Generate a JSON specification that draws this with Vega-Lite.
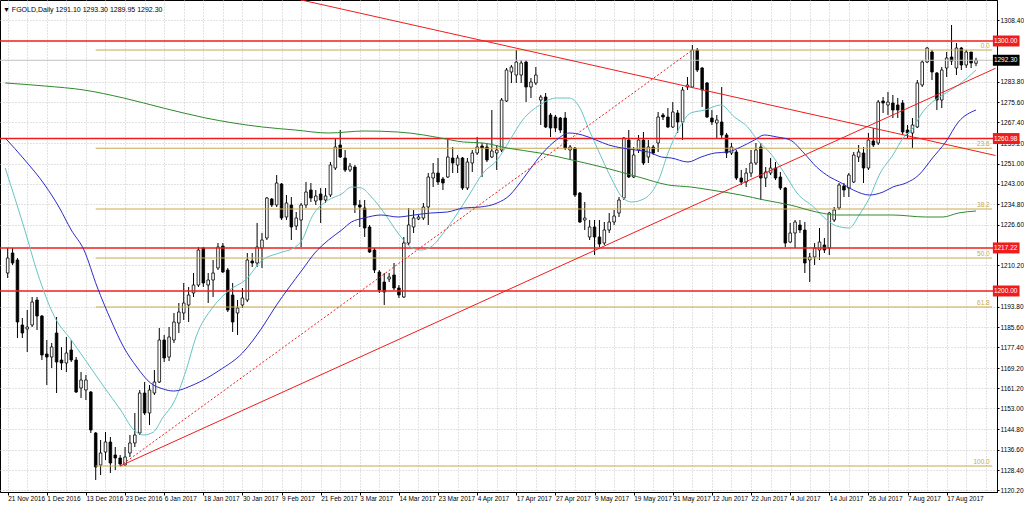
{
"$schema": "https://vega.github.io/schema/vega-lite/v6.json",
"width": 997, "height": 492, "autosize": "none",
"padding": {"left": 0, "top": 0, "right": 27, "bottom": 13},
"background": "white",
"config": {"view": {"stroke": "black", "strokeWidth": 1}, "font": "Liberation Sans", "axis": {"labelOverlap": false, "labelFlush": false, "labelBound": false}},
"title": {"text": "▼ FGOLD,Daily  1291.10 1293.30 1289.95 1292.30", "anchor": "start", "frame": "group", "orient": "top", "offset": -13, "dx": 3, "fontSize": 7, "fontWeight": "normal", "font": "Liberation Sans", "color": "black"},
"datasets": {
"candles": [
{"i":0,"o":1207.2,"h":1217.2,"l":1205.2,"c":1213.2},
{"i":1,"o":1215.2,"h":1217.2,"l":1210.4,"c":1211.2},
{"i":2,"o":1212.4,"h":1213.2,"l":1181.2,"c":1187.6},
{"i":3,"o":1186.4,"h":1189.2,"l":1181.2,"c":1183.2},
{"i":4,"o":1184.8,"h":1192.4,"l":1175.6,"c":1185.6},
{"i":5,"o":1186.4,"h":1197.6,"l":1185.6,"c":1195.6},
{"i":6,"o":1196.4,"h":1197.6,"l":1184.4,"c":1190.0},
{"i":7,"o":1190.0,"h":1190.4,"l":1172.4,"c":1174.4},
{"i":8,"o":1174.8,"h":1180.4,"l":1162.4,"c":1173.6},
{"i":9,"o":1173.6,"h":1179.2,"l":1169.2,"c":1177.6},
{"i":10,"o":1183.2,"h":1189.6,"l":1159.2,"c":1171.6},
{"i":11,"o":1172.4,"h":1177.6,"l":1168.4,"c":1171.2},
{"i":12,"o":1171.2,"h":1181.6,"l":1167.6,"c":1175.2},
{"i":13,"o":1176.4,"h":1180.4,"l":1171.6,"c":1172.4},
{"i":14,"o":1172.4,"h":1173.6,"l":1159.2,"c":1159.6},
{"i":15,"o":1161.2,"h":1167.6,"l":1157.2,"c":1164.4},
{"i":16,"o":1160.4,"h":1166.4,"l":1156.4,"c":1164.4},
{"i":17,"o":1159.6,"h":1160.0,"l":1143.2,"c":1144.4},
{"i":18,"o":1143.2,"h":1143.6,"l":1124.4,"c":1129.6},
{"i":19,"o":1130.4,"h":1140.4,"l":1126.4,"c":1135.2},
{"i":20,"o":1135.6,"h":1143.6,"l":1132.4,"c":1139.6},
{"i":21,"o":1139.6,"h":1141.6,"l":1127.2,"c":1131.2},
{"i":22,"o":1134.4,"h":1137.6,"l":1128.4,"c":1133.2},
{"i":23,"o":1133.2,"h":1134.4,"l":1130.0,"c":1130.8},
{"i":24,"o":1130.4,"h":1137.6,"l":1130.0,"c":1133.6},
{"i":25,"o":1135.2,"h":1142.4,"l":1133.6,"c":1139.2},
{"i":26,"o":1139.2,"h":1151.2,"l":1137.6,"c":1142.4},
{"i":27,"o":1143.2,"h":1160.4,"l":1142.4,"c":1159.2},
{"i":28,"o":1159.2,"h":1163.6,"l":1150.4,"c":1151.2},
{"i":29,"o":1151.2,"h":1162.4,"l":1146.4,"c":1160.4},
{"i":30,"o":1159.2,"h":1168.4,"l":1158.4,"c":1163.6},
{"i":31,"o":1163.6,"h":1185.2,"l":1163.2,"c":1180.4},
{"i":32,"o":1180.4,"h":1182.4,"l":1171.6,"c":1173.2},
{"i":33,"o":1173.6,"h":1185.6,"l":1172.0,"c":1181.6},
{"i":34,"o":1180.4,"h":1191.2,"l":1179.2,"c":1187.6},
{"i":35,"o":1187.2,"h":1195.2,"l":1183.2,"c":1191.6},
{"i":36,"o":1191.2,"h":1203.2,"l":1188.4,"c":1195.2},
{"i":37,"o":1194.4,"h":1201.6,"l":1187.6,"c":1198.4},
{"i":38,"o":1199.2,"h":1207.2,"l":1197.6,"c":1202.4},
{"i":39,"o":1202.4,"h":1217.6,"l":1201.6,"c":1216.4},
{"i":40,"o":1217.2,"h":1217.6,"l":1201.6,"c":1203.2},
{"i":41,"o":1202.4,"h":1207.2,"l":1195.2,"c":1204.4},
{"i":42,"o":1204.4,"h":1212.4,"l":1197.6,"c":1207.2},
{"i":43,"o":1209.2,"h":1219.2,"l":1208.4,"c":1217.6},
{"i":44,"o":1218.0,"h":1219.2,"l":1207.2,"c":1207.6},
{"i":45,"o":1208.4,"h":1209.2,"l":1191.6,"c":1192.4},
{"i":46,"o":1198.4,"h":1203.2,"l":1183.6,"c":1187.6},
{"i":47,"o":1191.2,"h":1196.4,"l":1182.4,"c":1193.2},
{"i":48,"o":1194.4,"h":1201.2,"l":1193.2,"c":1197.2},
{"i":49,"o":1196.4,"h":1215.2,"l":1195.6,"c":1212.4},
{"i":50,"o":1212.0,"h":1215.2,"l":1209.6,"c":1211.2},
{"i":51,"o":1211.2,"h":1227.2,"l":1209.6,"c":1217.6},
{"i":52,"o":1217.2,"h":1223.2,"l":1209.2,"c":1220.4},
{"i":53,"o":1221.2,"h":1237.6,"l":1220.4,"c":1237.2},
{"i":54,"o":1236.8,"h":1237.2,"l":1233.6,"c":1234.4},
{"i":55,"o":1234.4,"h":1246.4,"l":1233.6,"c":1243.2},
{"i":56,"o":1242.8,"h":1243.2,"l":1228.4,"c":1229.2},
{"i":57,"o":1229.6,"h":1238.4,"l":1228.4,"c":1235.2},
{"i":58,"o":1234.4,"h":1237.6,"l":1220.4,"c":1225.6},
{"i":59,"o":1226.0,"h":1231.6,"l":1224.4,"c":1229.2},
{"i":60,"o":1228.4,"h":1235.2,"l":1217.6,"c":1234.4},
{"i":61,"o":1234.4,"h":1243.6,"l":1233.2,"c":1239.6},
{"i":62,"o":1240.4,"h":1243.2,"l":1235.6,"c":1237.2},
{"i":63,"o":1236.0,"h":1240.4,"l":1234.4,"c":1238.0},
{"i":64,"o":1238.8,"h":1241.2,"l":1227.2,"c":1236.4},
{"i":65,"o":1236.4,"h":1241.2,"l":1235.2,"c":1238.0},
{"i":66,"o":1238.4,"h":1251.6,"l":1237.6,"c":1250.4},
{"i":67,"o":1249.2,"h":1261.2,"l":1248.4,"c":1257.6},
{"i":68,"o":1258.4,"h":1264.4,"l":1253.2,"c":1253.6},
{"i":69,"o":1253.2,"h":1256.4,"l":1247.6,"c":1248.4},
{"i":70,"o":1248.4,"h":1251.2,"l":1247.6,"c":1250.0},
{"i":71,"o":1249.6,"h":1250.4,"l":1231.2,"c":1234.4},
{"i":72,"o":1234.4,"h":1236.4,"l":1225.6,"c":1233.6},
{"i":73,"o":1233.2,"h":1236.4,"l":1221.6,"c":1225.2},
{"i":74,"o":1225.6,"h":1226.4,"l":1215.2,"c":1215.6},
{"i":75,"o":1216.4,"h":1217.2,"l":1207.2,"c":1208.4},
{"i":76,"o":1207.6,"h":1208.4,"l":1199.2,"c":1200.4},
{"i":77,"o":1203.6,"h":1207.2,"l":1194.4,"c":1199.6},
{"i":78,"o":1204.8,"h":1207.2,"l":1203.6,"c":1205.6},
{"i":79,"o":1206.4,"h":1211.2,"l":1200.4,"c":1201.2},
{"i":80,"o":1201.2,"h":1202.4,"l":1197.2,"c":1198.4},
{"i":81,"o":1197.6,"h":1221.6,"l":1197.2,"c":1219.2},
{"i":82,"o":1219.2,"h":1233.2,"l":1218.4,"c":1226.4},
{"i":83,"o":1225.6,"h":1232.4,"l":1223.2,"c":1229.2},
{"i":84,"o":1228.8,"h":1230.4,"l":1228.4,"c":1229.6},
{"i":85,"o":1229.2,"h":1235.2,"l":1228.4,"c":1233.6},
{"i":86,"o":1233.6,"h":1247.2,"l":1226.4,"c":1245.6},
{"i":87,"o":1245.2,"h":1251.2,"l":1241.6,"c":1247.2},
{"i":88,"o":1247.2,"h":1253.2,"l":1242.4,"c":1243.6},
{"i":89,"o":1244.8,"h":1245.6,"l":1240.4,"c":1243.2},
{"i":90,"o":1245.6,"h":1261.2,"l":1245.2,"c":1253.6},
{"i":91,"o":1253.2,"h":1257.6,"l":1247.2,"c":1251.2},
{"i":92,"o":1250.4,"h":1254.4,"l":1247.2,"c":1253.2},
{"i":93,"o":1253.2,"h":1253.6,"l":1240.4,"c":1241.2},
{"i":94,"o":1241.2,"h":1253.2,"l":1240.4,"c":1251.6},
{"i":95,"o":1251.2,"h":1256.4,"l":1247.6,"c":1255.2},
{"i":96,"o":1255.2,"h":1261.6,"l":1254.4,"c":1257.6},
{"i":97,"o":1258.0,"h":1259.2,"l":1245.6,"c":1257.2},
{"i":98,"o":1257.6,"h":1259.2,"l":1251.6,"c":1252.4},
{"i":99,"o":1253.6,"h":1272.4,"l":1253.2,"c":1256.0},
{"i":100,"o":1255.2,"h":1258.4,"l":1248.4,"c":1256.4},
{"i":101,"o":1256.4,"h":1277.2,"l":1255.6,"c":1276.4},
{"i":102,"o":1276.0,"h":1289.2,"l":1275.6,"c":1288.4},
{"i":103,"o":1287.6,"h":1290.4,"l":1283.2,"c":1289.6},
{"i":104,"o":1286.4,"h":1296.4,"l":1283.2,"c":1291.6},
{"i":105,"o":1286.4,"h":1292.4,"l":1283.2,"c":1291.2},
{"i":106,"o":1291.6,"h":1292.4,"l":1275.6,"c":1281.6},
{"i":107,"o":1281.6,"h":1285.2,"l":1277.2,"c":1283.6},
{"i":108,"o":1283.2,"h":1289.6,"l":1282.4,"c":1286.4},
{"i":109,"o":1276.4,"h":1278.4,"l":1266.4,"c":1277.6},
{"i":110,"o":1277.6,"h":1279.2,"l":1265.2,"c":1265.6},
{"i":111,"o":1270.4,"h":1271.2,"l":1261.6,"c":1265.2},
{"i":112,"o":1269.6,"h":1270.4,"l":1263.6,"c":1265.2},
{"i":113,"o":1269.2,"h":1269.6,"l":1263.2,"c":1264.4},
{"i":114,"o":1269.2,"h":1271.6,"l":1256.4,"c":1257.2},
{"i":115,"o":1256.4,"h":1258.4,"l":1252.4,"c":1257.6},
{"i":116,"o":1257.2,"h":1257.6,"l":1237.6,"c":1238.4},
{"i":117,"o":1239.2,"h":1239.6,"l":1227.2,"c":1227.6},
{"i":118,"o":1228.4,"h":1235.6,"l":1224.4,"c":1229.2},
{"i":119,"o":1221.6,"h":1228.4,"l":1220.4,"c":1225.6},
{"i":120,"o":1225.6,"h":1228.4,"l":1214.4,"c":1221.6},
{"i":121,"o":1221.6,"h":1228.4,"l":1217.6,"c":1218.8},
{"i":122,"o":1219.2,"h":1227.6,"l":1218.4,"c":1224.4},
{"i":123,"o":1224.4,"h":1231.2,"l":1223.2,"c":1227.6},
{"i":124,"o":1227.6,"h":1232.4,"l":1226.4,"c":1230.0},
{"i":125,"o":1231.2,"h":1237.6,"l":1229.6,"c":1236.4},
{"i":126,"o":1237.2,"h":1261.6,"l":1236.4,"c":1261.2},
{"i":127,"o":1260.4,"h":1264.4,"l":1245.2,"c":1245.6},
{"i":128,"o":1245.6,"h":1257.6,"l":1245.2,"c":1254.4},
{"i":129,"o":1256.4,"h":1262.4,"l":1255.2,"c":1260.4},
{"i":130,"o":1260.4,"h":1263.6,"l":1250.4,"c":1251.2},
{"i":131,"o":1253.6,"h":1260.4,"l":1251.2,"c":1257.6},
{"i":132,"o":1257.6,"h":1258.4,"l":1254.4,"c":1255.2},
{"i":133,"o":1259.2,"h":1271.6,"l":1255.6,"c":1269.6},
{"i":134,"o":1270.4,"h":1271.2,"l":1268.4,"c":1269.6},
{"i":135,"o":1269.6,"h":1273.2,"l":1265.2,"c":1265.6},
{"i":136,"o":1265.6,"h":1275.6,"l":1265.2,"c":1271.6},
{"i":137,"o":1271.2,"h":1272.4,"l":1263.2,"c":1267.6},
{"i":138,"o":1267.6,"h":1281.6,"l":1260.4,"c":1280.4},
{"i":139,"o":1281.6,"h":1285.6,"l":1280.4,"c":1282.4},
{"i":140,"o":1281.6,"h":1298.4,"l":1281.2,"c":1296.4},
{"i":141,"o":1296.4,"h":1297.2,"l":1287.6,"c":1288.4},
{"i":142,"o":1289.2,"h":1289.6,"l":1273.6,"c":1280.4},
{"i":143,"o":1283.2,"h":1283.6,"l":1269.2,"c":1269.6},
{"i":144,"o":1269.2,"h":1272.4,"l":1266.4,"c":1267.6},
{"i":145,"o":1267.2,"h":1270.4,"l":1261.2,"c":1268.4},
{"i":146,"o":1267.6,"h":1281.6,"l":1261.2,"c":1262.4},
{"i":147,"o":1262.4,"h":1263.2,"l":1253.2,"c":1255.2},
{"i":148,"o":1255.2,"h":1259.2,"l":1254.4,"c":1257.6},
{"i":149,"o":1255.6,"h":1256.4,"l":1244.4,"c":1245.2},
{"i":150,"o":1245.2,"h":1248.4,"l":1242.4,"c":1243.6},
{"i":151,"o":1243.6,"h":1249.2,"l":1241.6,"c":1247.2},
{"i":152,"o":1247.2,"h":1256.4,"l":1245.6,"c":1251.2},
{"i":153,"o":1251.2,"h":1259.2,"l":1250.4,"c":1256.4},
{"i":154,"o":1257.6,"h":1259.2,"l":1236.4,"c":1245.2},
{"i":155,"o":1245.2,"h":1249.6,"l":1241.6,"c":1247.6},
{"i":156,"o":1247.2,"h":1253.2,"l":1246.4,"c":1249.2},
{"i":157,"o":1249.2,"h":1251.6,"l":1244.4,"c":1245.2},
{"i":158,"o":1245.6,"h":1247.6,"l":1240.4,"c":1241.2},
{"i":159,"o":1241.2,"h":1241.6,"l":1217.6,"c":1219.2},
{"i":160,"o":1219.6,"h":1227.2,"l":1219.2,"c":1223.2},
{"i":161,"o":1223.2,"h":1228.4,"l":1217.2,"c":1227.6},
{"i":162,"o":1226.4,"h":1228.4,"l":1223.2,"c":1224.4},
{"i":163,"o":1224.4,"h":1227.6,"l":1207.2,"c":1211.2},
{"i":164,"o":1212.4,"h":1215.2,"l":1203.6,"c":1213.6},
{"i":165,"o":1213.6,"h":1219.2,"l":1210.4,"c":1217.2},
{"i":166,"o":1216.4,"h":1225.2,"l":1212.4,"c":1219.6},
{"i":167,"o":1218.4,"h":1221.2,"l":1215.2,"c":1216.4},
{"i":168,"o":1217.2,"h":1231.6,"l":1214.4,"c":1231.2},
{"i":169,"o":1228.4,"h":1233.6,"l":1227.6,"c":1232.4},
{"i":170,"o":1233.2,"h":1243.2,"l":1232.4,"c":1242.4},
{"i":171,"o":1242.0,"h":1243.2,"l":1237.6,"c":1240.4},
{"i":172,"o":1241.2,"h":1247.2,"l":1237.6,"c":1246.4},
{"i":173,"o":1243.6,"h":1255.6,"l":1243.2,"c":1254.4},
{"i":174,"o":1253.6,"h":1258.4,"l":1251.6,"c":1255.6},
{"i":175,"o":1255.2,"h":1257.6,"l":1243.2,"c":1249.2},
{"i":176,"o":1249.2,"h":1263.2,"l":1248.4,"c":1260.4},
{"i":177,"o":1260.0,"h":1265.2,"l":1257.6,"c":1258.4},
{"i":178,"o":1259.2,"h":1276.4,"l":1258.4,"c":1275.6},
{"i":179,"o":1276.0,"h":1277.6,"l":1271.2,"c":1275.2},
{"i":180,"o":1274.4,"h":1279.6,"l":1270.4,"c":1275.6},
{"i":181,"o":1275.2,"h":1278.4,"l":1269.2,"c":1272.4},
{"i":182,"o":1274.4,"h":1277.2,"l":1269.2,"c":1272.4},
{"i":183,"o":1275.2,"h":1276.4,"l":1262.4,"c":1263.6},
{"i":184,"o":1264.4,"h":1266.4,"l":1261.2,"c":1263.2},
{"i":185,"o":1263.2,"h":1269.2,"l":1257.2,"c":1266.4},
{"i":186,"o":1265.6,"h":1284.4,"l":1265.2,"c":1283.2},
{"i":187,"o":1282.4,"h":1292.4,"l":1281.6,"c":1291.6},
{"i":188,"o":1291.6,"h":1297.6,"l":1291.2,"c":1297.2},
{"i":189,"o":1295.6,"h":1296.4,"l":1284.4,"c":1287.6},
{"i":190,"o":1287.2,"h":1287.6,"l":1272.4,"c":1276.4},
{"i":191,"o":1276.4,"h":1289.6,"l":1273.2,"c":1288.4},
{"i":192,"o":1289.2,"h":1295.6,"l":1285.6,"c":1293.2},
{"i":193,"o":1293.6,"h":1306.4,"l":1290.4,"c":1292.0},
{"i":194,"o":1289.2,"h":1299.2,"l":1286.4,"c":1297.2},
{"i":195,"o":1297.2,"h":1297.6,"l":1288.4,"c":1290.4},
{"i":196,"o":1290.4,"h":1296.4,"l":1289.2,"c":1295.6},
{"i":197,"o":1295.6,"h":1295.6,"l":1289.2,"c":1291.2},
{"i":198,"o":1291.1,"h":1293.3,"l":1289.95,"c":1292.3}
],
"ma": [
{"s":"f","i":-0.5,"v":1249.2},{"s":"f","i":3.5,"v":1224.4},{"s":"f","i":6.1,"v":1207.2},{"s":"f","i":9.6,"v":1189.6},{"s":"f","i":13.0,"v":1180.4},{"s":"f","i":16.3,"v":1171.2},{"s":"f","i":19.7,"v":1161.6},{"s":"f","i":23.1,"v":1152.4},{"s":"f","i":25.8,"v":1144.4},{"s":"f","i":27.8,"v":1142.4},{"s":"f","i":29.8,"v":1143.6},{"s":"f","i":31.8,"v":1149.6},{"s":"f","i":33.9,"v":1155.2},{"s":"f","i":36.5,"v":1168.4},{"s":"f","i":38.5,"v":1181.6},{"s":"f","i":42.0,"v":1193.6},{"s":"f","i":45.4,"v":1200.4},{"s":"f","i":48.6,"v":1204.4},{"s":"f","i":52.1,"v":1212.4},{"s":"f","i":55.5,"v":1215.2},{"s":"f","i":58.8,"v":1217.6},{"s":"f","i":60.2,"v":1220.4},{"s":"f","i":62.2,"v":1229.6},{"s":"f","i":65.6,"v":1236.4},{"s":"f","i":68.3,"v":1238.8},{"s":"f","i":70.3,"v":1241.6},{"s":"f","i":72.3,"v":1241.2},{"s":"f","i":74.4,"v":1237.6},{"s":"f","i":77.0,"v":1231.2},{"s":"f","i":79.8,"v":1223.2},{"s":"f","i":82.4,"v":1217.6},{"s":"f","i":84.5,"v":1216.4},{"s":"f","i":86.5,"v":1217.6},{"s":"f","i":89.1,"v":1223.2},{"s":"f","i":92.0,"v":1231.2},{"s":"f","i":94.6,"v":1239.2},{"s":"f","i":97.2,"v":1247.2},{"s":"f","i":100.1,"v":1252.4},{"s":"f","i":102.7,"v":1260.4},{"s":"f","i":105.3,"v":1268.4},{"s":"f","i":108.8,"v":1274.4},{"s":"f","i":112.2,"v":1277.2},{"s":"f","i":114.8,"v":1277.2},{"s":"f","i":116.9,"v":1273.6},{"s":"f","i":118.9,"v":1264.4},{"s":"f","i":121.0,"v":1255.2},{"s":"f","i":123.6,"v":1244.4},{"s":"f","i":125.6,"v":1237.6},{"s":"f","i":127.6,"v":1235.6},{"s":"f","i":130.4,"v":1237.2},{"s":"f","i":133.1,"v":1244.4},{"s":"f","i":135.1,"v":1255.6},{"s":"f","i":137.1,"v":1264.4},{"s":"f","i":139.7,"v":1271.2},{"s":"f","i":142.6,"v":1272.4},{"s":"f","i":145.8,"v":1274.4},{"s":"f","i":148.6,"v":1269.6},{"s":"f","i":151.3,"v":1265.6},{"s":"f","i":153.3,"v":1260.4},{"s":"f","i":155.9,"v":1255.2},{"s":"f","i":158.8,"v":1247.2},{"s":"f","i":161.4,"v":1239.2},{"s":"f","i":164.8,"v":1233.6},{"s":"f","i":167.5,"v":1228.4},{"s":"f","i":169.5,"v":1226.0},{"s":"f","i":172.1,"v":1225.2},{"s":"f","i":174.1,"v":1230.4},{"s":"f","i":176.2,"v":1237.2},{"s":"f","i":178.2,"v":1246.4},{"s":"f","i":181.0,"v":1254.4},{"s":"f","i":183.1,"v":1261.2},{"s":"f","i":185.1,"v":1265.2},{"s":"f","i":187.1,"v":1271.6},{"s":"f","i":189.1,"v":1275.6},{"s":"f","i":191.2,"v":1278.4},{"s":"f","i":194.4,"v":1282.4},{"s":"f","i":198.0,"v":1288.4},
{"s":"m","i":-0.5,"v":1261.2},{"s":"m","i":3.5,"v":1252.4},{"s":"m","i":7.6,"v":1242.4},{"s":"m","i":10.6,"v":1233.2},{"s":"m","i":13.0,"v":1224.4},{"s":"m","i":15.6,"v":1216.4},{"s":"m","i":18.3,"v":1201.6},{"s":"m","i":21.1,"v":1188.4},{"s":"m","i":23.7,"v":1177.6},{"s":"m","i":26.4,"v":1169.6},{"s":"m","i":29.2,"v":1163.2},{"s":"m","i":31.8,"v":1160.8},{"s":"m","i":33.9,"v":1160.0},{"s":"m","i":37.9,"v":1162.4},{"s":"m","i":43.4,"v":1168.4},{"s":"m","i":48.0,"v":1175.2},{"s":"m","i":52.1,"v":1185.6},{"s":"m","i":54.7,"v":1193.6},{"s":"m","i":57.6,"v":1201.6},{"s":"m","i":60.2,"v":1208.4},{"s":"m","i":62.8,"v":1215.2},{"s":"m","i":65.6,"v":1220.4},{"s":"m","i":68.3,"v":1224.4},{"s":"m","i":70.3,"v":1227.6},{"s":"m","i":72.9,"v":1229.2},{"s":"m","i":76.4,"v":1230.4},{"s":"m","i":79.8,"v":1229.6},{"s":"m","i":83.1,"v":1230.4},{"s":"m","i":86.5,"v":1231.2},{"s":"m","i":89.9,"v":1231.6},{"s":"m","i":93.2,"v":1233.2},{"s":"m","i":96.6,"v":1233.6},{"s":"m","i":100.1,"v":1235.2},{"s":"m","i":102.7,"v":1238.4},{"s":"m","i":104.1,"v":1241.6},{"s":"m","i":106.7,"v":1248.4},{"s":"m","i":109.4,"v":1255.2},{"s":"m","i":112.2,"v":1260.4},{"s":"m","i":114.8,"v":1263.2},{"s":"m","i":117.5,"v":1262.4},{"s":"m","i":120.3,"v":1260.4},{"s":"m","i":122.9,"v":1258.4},{"s":"m","i":125.6,"v":1257.2},{"s":"m","i":128.4,"v":1256.4},{"s":"m","i":131.0,"v":1255.6},{"s":"m","i":133.7,"v":1253.6},{"s":"m","i":135.7,"v":1253.2},{"s":"m","i":139.1,"v":1251.6},{"s":"m","i":141.8,"v":1253.6},{"s":"m","i":144.6,"v":1255.2},{"s":"m","i":147.2,"v":1255.6},{"s":"m","i":149.9,"v":1257.6},{"s":"m","i":152.7,"v":1260.4},{"s":"m","i":154.7,"v":1262.4},{"s":"m","i":157.3,"v":1261.6},{"s":"m","i":160.0,"v":1260.4},{"s":"m","i":162.8,"v":1255.2},{"s":"m","i":165.4,"v":1249.6},{"s":"m","i":168.1,"v":1245.6},{"s":"m","i":170.1,"v":1243.6},{"s":"m","i":172.9,"v":1240.4},{"s":"m","i":176.2,"v":1238.4},{"s":"m","i":179.0,"v":1239.6},{"s":"m","i":181.0,"v":1241.6},{"s":"m","i":183.7,"v":1243.2},{"s":"m","i":186.3,"v":1246.4},{"s":"m","i":189.1,"v":1253.2},{"s":"m","i":191.8,"v":1259.6},{"s":"m","i":194.4,"v":1267.6},{"s":"m","i":198.0,"v":1272.4},
{"s":"s","i":-0.5,"v":1283.2},{"s":"s","i":7.6,"v":1282.0},{"s":"s","i":15.6,"v":1280.4},{"s":"s","i":23.7,"v":1277.2},{"s":"s","i":31.8,"v":1273.2},{"s":"s","i":40.5,"v":1269.2},{"s":"s","i":52.1,"v":1265.6},{"s":"s","i":58.8,"v":1264.4},{"s":"s","i":65.6,"v":1263.2},{"s":"s","i":72.9,"v":1264.0},{"s":"s","i":79.8,"v":1263.6},{"s":"s","i":85.1,"v":1262.4},{"s":"s","i":88.5,"v":1261.2},{"s":"s","i":93.2,"v":1259.6},{"s":"s","i":97.2,"v":1259.2},{"s":"s","i":102.1,"v":1257.2},{"s":"s","i":108.8,"v":1255.2},{"s":"s","i":115.4,"v":1252.4},{"s":"s","i":122.3,"v":1249.2},{"s":"s","i":129.0,"v":1245.6},{"s":"s","i":135.1,"v":1242.4},{"s":"s","i":139.7,"v":1241.6},{"s":"s","i":143.8,"v":1240.4},{"s":"s","i":149.9,"v":1238.4},{"s":"s","i":154.7,"v":1236.4},{"s":"s","i":160.0,"v":1234.4},{"s":"s","i":165.4,"v":1231.6},{"s":"s","i":169.5,"v":1230.4},{"s":"s","i":174.1,"v":1230.4},{"s":"s","i":181.0,"v":1230.4},{"s":"s","i":187.7,"v":1229.6},{"s":"s","i":191.2,"v":1229.6},{"s":"s","i":194.4,"v":1231.2},{"s":"s","i":198.0,"v":1232.0}
],
"levels": [{"p":1300.0},{"p":1260.98},{"p":1217.22},{"p":1200.0}],
"fib": [{"p":1296.4,"t":"0.0"},{"p":1257.1,"t":"23.6"},{"p":1232.8,"t":"38.2"},{"p":1213.2,"t":"50.0"},{"p":1193.6,"t":"61.8"},{"p":1130.0,"t":"100.0"}],
"trend": [
{"s":"dot","i":23,"p":1130.0},{"s":"dot","i":140,"p":1296.4},
{"s":"up","i":23,"p":1130.0},{"s":"up","i":202,"p":1289.1},
{"s":"down","i":50,"p":1320.8},{"s":"down","i":202,"p":1254.2}
],
"boxes": [
{"p":1300.0,"t":"1300.00","k":"r"},{"p":1260.98,"t":"1260.98","k":"r"},{"p":1217.22,"t":"1217.22","k":"r"},{"p":1200.0,"t":"1200.00","k":"r"},{"p":1292.3,"t":"1292.30","k":"b"}
]
},
"layer": [
{"data": {"name": "candles"},
 "mark": {"type": "rule", "color": "black", "strokeWidth": 1},
 "encoding": {
  "x": {"field": "i", "type": "quantitative", "scale": {"domain": [-0.547, 201.27], "nice": false, "zero": false},
    "axis": {"title": null, "tickCount": 1000, "values": [0,4,8,12,16,20,24,28,32,36,40,44,48,52,56,60,64,68,72,76,80,84,88,92,96,100,104,108,112,116,120,124,128,132,136,140,144,148,152,156,160,164,168,172,176,180,184,188,192,196,200],
     "labelExpr": "(datum.value % 8 === 0 && datum.value <= 192) ? ['21 Nov 2016','1 Dec 2016','13 Dec 2016','23 Dec 2016','6 Jan 2017','18 Jan 2017','30 Jan 2017','9 Feb 2017','21 Feb 2017','3 Mar 2017','14 Mar 2017','23 Mar 2017','4 Apr 2017','17 Apr 2017','27 Apr 2017','9 May 2017','19 May 2017','31 May 2017','12 Jun 2017','22 Jun 2017','4 Jul 2017','14 Jul 2017','26 Jul 2017','7 Aug 2017','17 Aug 2017'][datum.value / 8] : ''",
     "grid": true, "gridColor": "#c4c4c4", "gridDash": [1, 2], "gridWidth": 1,
     "tickSize": 3, "tickColor": {"condition": {"test": "datum.value % 8 === 0 && datum.value <= 192", "value": "black"}, "value": "transparent"},
     "labelAlign": "left", "labelBaseline": "top", "labelPadding": 0, "labelFontSize": 6.5, "labelColor": "black", "labelFont": "Liberation Sans",
     "labelFlush": false, "labelOverlap": false, "labelBound": false, "domainColor": "black"}},
  "y": {"field": "l", "type": "quantitative", "scale": {"domain": [1119.6, 1316.4], "nice": false, "zero": false},
    "axis": {"title": null, "orient": "right", "tickCount": 1000, "values": [1120.2,1128.4,1136.6,1144.8,1153.0,1161.2,1169.2,1177.4,1185.6,1193.8,1210.2,1226.6,1234.8,1243.0,1251.0,1259.2,1267.4,1275.6,1283.8,1308.4],
     "format": ".2f", "grid": true, "gridColor": "#c4c4c4", "gridDash": [1, 2], "gridWidth": 1,
     "tickSize": 2, "tickColor": "black", "labelPadding": 1, "labelFontSize": 6.5, "labelColor": "black", "labelFont": "Liberation Sans",
     "labelAlign": "left", "labelBaseline": "middle", "labelFlush": false, "labelOverlap": false, "labelBound": false, "domainColor": "black"}},
  "y2": {"field": "h"}
 }},
{"data": {"name": "candles"},
 "mark": {"type": "bar", "width": 2.6, "stroke": "black", "strokeWidth": 0.8},
 "encoding": {
  "x": {"field": "i", "type": "quantitative"},
  "y": {"field": "o", "type": "quantitative"},
  "y2": {"field": "c"},
  "fill": {"condition": {"test": "datum.c >= datum.o", "value": "white"}, "value": "black"}
 }},
{"data": {"name": "fib"},
 "mark": {"type": "rule", "color": "#c9a850", "strokeWidth": 1, "clip": true},
 "encoding": {
  "x": {"datum": 18, "type": "quantitative"},
  "x2": {"datum": 201.3},
  "y": {"field": "p", "type": "quantitative"}
 }},
{"data": {"name": "fib"},
 "mark": {"type": "text", "color": "#c9a850", "fontSize": 6.5, "align": "right", "baseline": "bottom", "dy": -1, "font": "Liberation Sans"},
 "encoding": {
  "x": {"datum": 200.8, "type": "quantitative"},
  "y": {"field": "p", "type": "quantitative"},
  "text": {"field": "t"}
 }},
{"data": {"name": "levels"},
 "mark": {"type": "rule", "color": "#f01c1c", "strokeWidth": 1.6},
 "encoding": {
  "y": {"field": "p", "type": "quantitative"}
 }},
{"data": {"values": [{"p": 1292.3}]},
 "mark": {"type": "rule", "color": "#c0c0c0", "strokeWidth": 1},
 "encoding": {
  "y": {"field": "p", "type": "quantitative"}
 }},
{"data": {"name": "ma"},
 "mark": {"type": "line", "strokeWidth": 1, "interpolate": "monotone", "clip": true},
 "encoding": {
  "x": {"field": "i", "type": "quantitative"},
  "y": {"field": "v", "type": "quantitative"},
  "color": {"field": "s", "type": "nominal", "scale": {"domain": ["f", "m", "s"], "range": ["#66c4c4", "#2b2bcc", "#2e8b2e"]}, "legend": null}
 }},
{"data": {"name": "trend"},
 "transform": [{"filter": "datum.s === 'dot'"}],
 "mark": {"type": "line", "color": "#f01c1c", "strokeWidth": 1, "strokeDash": [2, 2], "clip": true},
 "encoding": {
  "x": {"field": "i", "type": "quantitative"},
  "y": {"field": "p", "type": "quantitative"}
 }},
{"data": {"name": "trend"},
 "transform": [{"filter": "datum.s !== 'dot'"}],
 "mark": {"type": "line", "color": "#f01c1c", "strokeWidth": 1, "clip": true},
 "encoding": {
  "x": {"field": "i", "type": "quantitative"},
  "y": {"field": "p", "type": "quantitative"},
  "detail": {"field": "s"}
 }},
{"data": {"name": "boxes"},
 "mark": {"type": "rect", "clip": false, "yOffset": -5.5, "y2Offset": 5.5},
 "encoding": {
  "x": {"datum": 201.45, "type": "quantitative"},
  "x2": {"datum": 206.9},
  "y": {"field": "p", "type": "quantitative"},
  "y2": {"field": "p"},
  "fill": {"field": "k", "type": "nominal", "scale": {"domain": ["r", "b"], "range": ["#f01c1c", "#000000"]}, "legend": null}
 }},
{"data": {"name": "boxes"},
 "mark": {"type": "text", "color": "white", "fontSize": 6.5, "align": "left", "baseline": "middle", "clip": false, "font": "Liberation Sans", "dx": 1},
 "encoding": {
  "x": {"datum": 201.45, "type": "quantitative"},
  "y": {"field": "p", "type": "quantitative"},
  "text": {"field": "t"}
 }}
]
}
